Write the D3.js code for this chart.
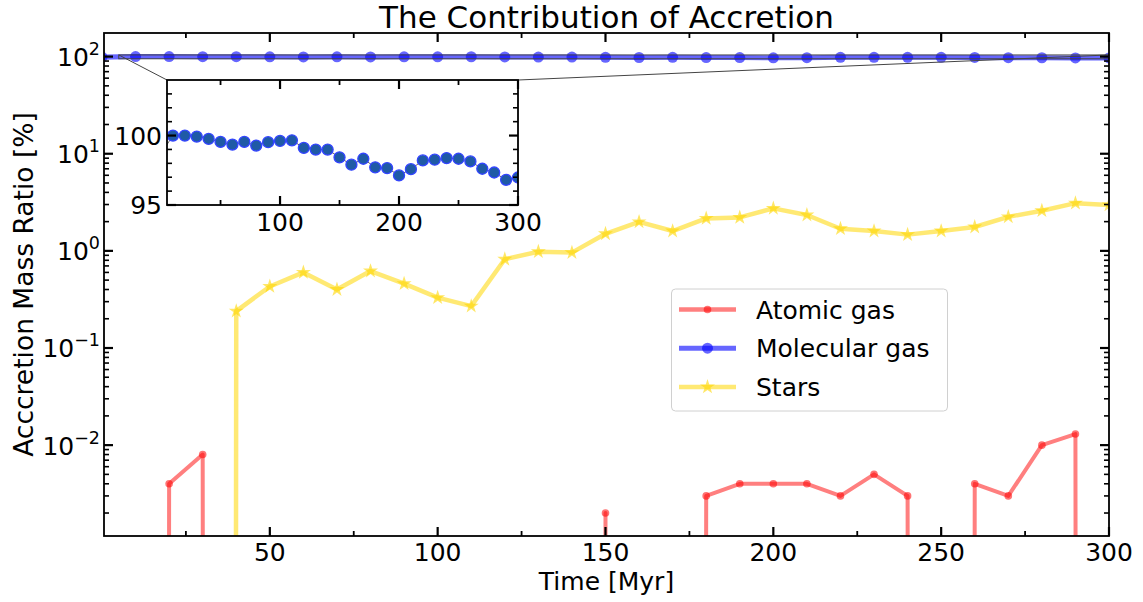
<!DOCTYPE html>
<html><head><meta charset="utf-8">
<script src="https://cdn.jsdelivr.net/npm/d3@7"></script>
<style>
body{margin:0;background:#fff}
svg text{font-family:"DejaVu Sans",sans-serif;fill:#000}
</style>
</head><body>
<svg id="c" width="1143" height="602"></svg>
<script>
// ---------- data ----------
const times = [0,10,20,30,40,50,60,70,80,90,100,110,120,130,140,150,160,170,180,190,200,210,220,230,240,250,260,270,280,290,300];
const atomicGas = [0,0,0.004,0.008,0,0,0,0,0,0,0,0,0,0,0,0.002,0,0,0.003,0.004,0.004,0.004,0.003,0.005,0.003,0,0.004,0.003,0.010,0.013,0];
const molecularGas = [98.7,100.0,100.0,99.93,99.76,99.54,99.35,99.54,99.28,99.52,99.61,99.66,99.11,98.99,98.99,98.43,97.90,98.33,97.71,97.66,97.13,97.58,98.21,98.26,98.38,98.33,98.14,97.61,97.34,96.81,96.98];
const stars = [0,0,0,0,0.24,0.43,0.60,0.40,0.62,0.46,0.33,0.27,0.82,0.98,0.96,1.50,1.99,1.60,2.16,2.21,2.74,2.34,1.69,1.60,1.47,1.60,1.76,2.24,2.59,3.10,2.97];
const seriesNames = ["Atomic gas","Molecular gas","Stars"];
const xTicks = [50,100,150,200,250,300];
const xMinorTicks = [25,75,125,175,225,275];
const yTicks = [1e-2,1e-1,1,10,100];
const yTickExp = ["\u22122","\u22121","0","1","2"];
const insetXTicks = [100,200,300];
const insetXMinor = [50,150,250];
const insetYTicks = [95,100];
const insetYMinor = [96,97,98,99,101,102,103];

// ---------- layout ----------
const svg = d3.select("#c");
const L=104, R=1109, T=33, B=536;
const x = d3.scaleLinear().domain([0.6,300]).range([L,R]);
const y = d3.scaleLog().domain([1.16e-3,175]).range([B,T]);
const FLOOR = 1e-300; // matplotlib-like clipping of non-positive values
const yv = v => y(v>0 ? v : FLOOR);

const IL=167, IR=518, IT=80, IB=205;
const xi = d3.scaleLinear().domain([5,300]).range([IL,IR]);
const yi = d3.scaleLinear().domain([95,104]).range([IB,IT]);

const defs = svg.append("defs");
defs.append("clipPath").attr("id","mainClip").append("rect").attr("x",L).attr("y",T).attr("width",R-L).attr("height",B-T);
defs.append("clipPath").attr("id","insClip").append("rect").attr("x",IL).attr("y",IT).attr("width",IR-IL).attr("height",IB-IT);

const red="#ff0000", blue="#0000ff", gold="#ffd700";
const mk = arr => times.map((t,i)=>({t, v:arr[i]}));

// ---------- main data ----------
const gMain = svg.append("g").attr("clip-path","url(#mainClip)");
const line = d3.line().x(d=>x(d.t)).y(d=>yv(d.v));

// atomic
gMain.append("path").datum(mk(atomicGas)).attr("d",line)
  .attr("fill","none").attr("stroke",red).attr("stroke-opacity",0.5).attr("stroke-width",4).attr("stroke-linejoin","round");
gMain.selectAll(".ad").data(mk(atomicGas).filter(d=>d.v>0)).join("circle")
  .attr("cx",d=>x(d.t)).attr("cy",d=>yv(d.v)).attr("r",3.8).attr("fill",red).attr("fill-opacity",0.55);
// molecular
gMain.append("path").datum(mk(molecularGas)).attr("d",line)
  .attr("fill","none").attr("stroke",blue).attr("stroke-opacity",0.6).attr("stroke-width",5);
gMain.selectAll(".md").data(mk(molecularGas)).join("circle")
  .attr("cx",d=>x(d.t)).attr("cy",d=>yv(d.v)).attr("r",5.5).attr("fill",blue).attr("fill-opacity",0.6);
// stars
gMain.append("path").datum(mk(stars)).attr("d",line)
  .attr("fill","none").attr("stroke",gold).attr("stroke-opacity",0.55).attr("stroke-width",4.5).attr("stroke-linejoin","round");
const starSym = d3.symbol().type(d3.symbolStar).size(70);
gMain.selectAll(".sd").data(mk(stars).filter(d=>d.v>0)).join("path")
  .attr("d",starSym).attr("transform",d=>`translate(${x(d.t)},${yv(d.v)})`)
  .attr("fill",gold).attr("fill-opacity",0.6);

// inset marker rectangle + connectors
const rx0=x(5), rx1=x(300), ry0=y(104), ry1=y(95);
svg.append("rect").attr("x",rx0).attr("y",ry0).attr("width",rx1-rx0).attr("height",ry1-ry0)
  .attr("fill","none").attr("stroke","#444").attr("stroke-width",1);
svg.append("line").attr("x1",IL).attr("y1",IT).attr("x2",rx0).attr("y2",ry0).attr("stroke","#444").attr("stroke-width",1);
svg.append("line").attr("x1",IR).attr("y1",IT).attr("x2",rx1).attr("y2",ry0).attr("stroke","#444").attr("stroke-width",1);

// ---------- main axes ----------
const gAx = svg.append("g");
gAx.append("rect").attr("x",L).attr("y",T).attr("width",R-L).attr("height",B-T)
  .attr("fill","none").attr("stroke","#000").attr("stroke-width",1.8);

function tickX(g, scale, vals, top, bottom, len, w){
  vals.forEach(v=>{
    const p=scale(v);
    g.append("line").attr("x1",p).attr("x2",p).attr("y1",bottom).attr("y2",bottom-len).attr("stroke","#000").attr("stroke-width",w);
    g.append("line").attr("x1",p).attr("x2",p).attr("y1",top).attr("y2",top+len).attr("stroke","#000").attr("stroke-width",w);
  });
}
function tickY(g, scale, vals, left, right, len, w){
  vals.forEach(v=>{
    const p=scale(v);
    g.append("line").attr("y1",p).attr("y2",p).attr("x1",left).attr("x2",left+len).attr("stroke","#000").attr("stroke-width",w);
    g.append("line").attr("y1",p).attr("y2",p).attr("x1",right).attr("x2",right-len).attr("stroke","#000").attr("stroke-width",w);
  });
}
tickX(gAx, x, xTicks, T, B, 9, 2.2);
tickX(gAx, x, xMinorTicks, T, B, 5, 1.8);
tickY(gAx, y, yTicks, L, R, 9, 2.2);
const yMinor=[];
for(let e=-3;e<=2;e++) for(let m=2;m<=9;m++){const v=m*Math.pow(10,e); if(v>y.domain()[0]&&v<y.domain()[1]) yMinor.push(v);}
tickY(gAx, y, yMinor, L, R, 5, 1.6);

gAx.selectAll(".xl").data(xTicks).join("text").attr("x",d=>x(d)).attr("y",560.5)
  .attr("text-anchor","middle").attr("font-size",25).text(d=>d);
yTicks.forEach((v,i)=>{
  const t=gAx.append("text").attr("x",L-4).attr("y",y(v)+9.5).attr("text-anchor","end").attr("font-size",25);
  t.append("tspan").text("10");
  t.append("tspan").attr("font-size",17.5).attr("dy",-11).text(yTickExp[i]);
});

svg.append("text").attr("x",(L+R)/2).attr("y",590).attr("text-anchor","middle").attr("font-size",25).text("Time [Myr]");
svg.append("text").attr("transform",`translate(33,${(T+B)/2}) rotate(-90)`).attr("text-anchor","middle")
  .attr("font-size",26.5).text("Acccretion Mass Ratio [%]");
svg.append("text").attr("x",(L+R)/2).attr("y",28).attr("text-anchor","middle").attr("font-size",31).text("The Contribution of Accretion");

// ---------- inset ----------
const gIn = svg.append("g");
gIn.append("rect").attr("x",IL).attr("y",IT).attr("width",IR-IL).attr("height",IB-IT).attr("fill","#fff");
const gInD = gIn.append("g").attr("clip-path","url(#insClip)");
const lineI = d3.line().x(d=>xi(d.t)).y(d=>yi(d.v));
gInD.append("path").datum(mk(molecularGas)).attr("d",lineI).attr("fill","none").attr("stroke","#666").attr("stroke-width",1);
gInD.selectAll(".id").data(mk(molecularGas)).join("circle")
  .attr("cx",d=>xi(d.t)).attr("cy",d=>yi(d.v)).attr("r",5.5)
  .attr("fill","#1f5aa6").attr("stroke","#3344ff").attr("stroke-width",1.3);
gIn.append("rect").attr("x",IL).attr("y",IT).attr("width",IR-IL).attr("height",IB-IT)
  .attr("fill","none").attr("stroke","#000").attr("stroke-width",1.8);
tickX(gIn, xi, insetXTicks, IT, IB, 9, 2.2);
tickX(gIn, xi, insetXMinor, IT, IB, 5, 1.8);
tickY(gIn, yi, insetYTicks, IL, IR, 9, 2.2);
tickY(gIn, yi, insetYMinor, IL, IR, 5, 1.6);
gIn.selectAll(".ixl").data(insetXTicks).join("text").attr("x",d=>xi(d)).attr("y",IB+26)
  .attr("text-anchor","middle").attr("font-size",25).text(d=>d);
gIn.selectAll(".iyl").data(insetYTicks).join("text").attr("x",IL-5).attr("y",d=>yi(d)+9)
  .attr("text-anchor","end").attr("font-size",25).text(d=>d);

// ---------- legend ----------
const gL = svg.append("g");
gL.append("rect").attr("x",671.5).attr("y",289).attr("width",276).attr("height",122).attr("rx",4)
  .attr("fill","#fff").attr("fill-opacity",0.8).attr("stroke","#d0d0d0").attr("stroke-width",1);
const legColors=[red,blue,gold], legOp=[0.5,0.6,0.55];
seriesNames.forEach((n,i)=>{
  const yy=309.5+i*38.7;
  gL.append("line").attr("x1",679).attr("x2",736).attr("y1",yy).attr("y2",yy)
    .attr("stroke",legColors[i]).attr("stroke-opacity",legOp[i]).attr("stroke-width",i==1?5:4.5);
  if(i==0) gL.append("circle").attr("cx",707.5).attr("cy",yy).attr("r",3.8).attr("fill",red).attr("fill-opacity",0.55);
  if(i==1) gL.append("circle").attr("cx",707.5).attr("cy",yy).attr("r",5.5).attr("fill",blue).attr("fill-opacity",0.6);
  if(i==2) gL.append("path").attr("d",starSym).attr("transform",`translate(707.5,${yy})`).attr("fill",gold).attr("fill-opacity",0.6);
  gL.append("text").attr("x",756).attr("y",yy+9).attr("font-size",25).text(n);
});
</script>
</body></html>
